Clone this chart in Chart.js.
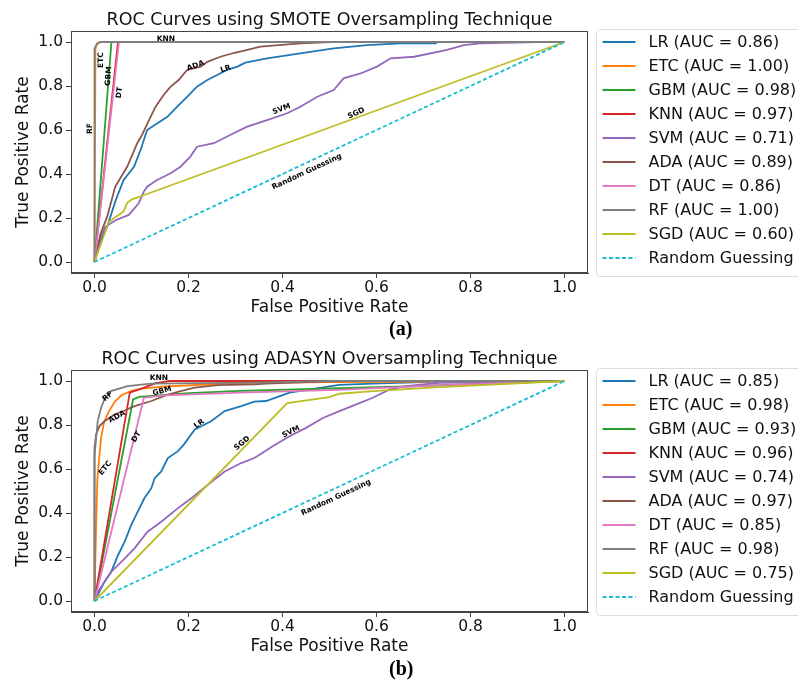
<!DOCTYPE html>
<html>
<head>
<meta charset="utf-8">
<script src="https://cdn.jsdelivr.net/npm/chart.js@4.4.0/dist/chart.umd.min.js"></script>
<style>
  body { margin: 0; background: #fff; width: 798px; height: 681px; position: relative; overflow: hidden; }
  .panel { position: absolute; left: 0; width: 798px; height: 340px; }
  .tag { position: absolute; font-family: "Liberation Serif", "Times New Roman", serif; font-weight: bold; font-size: 20px; line-height: 23px; }
</style>
</head>
<body>
<div class="panel" style="top:0"><canvas id="smote" width="798" height="340"></canvas></div>
<div class="panel" style="top:339px"><canvas id="adasyn" width="798" height="340"></canvas></div>
<div class="tag" style="left:389px;top:317px">(a)</div>
<div class="tag" style="left:389px;top:657px">(b)</div>
<script>
// Models and AUC values from the legends
const models = ["LR", "ETC", "GBM", "KNN", "SVM", "ADA", "DT", "RF", "SGD"];
const smoteAuc = [0.86, 1.00, 0.98, 0.97, 0.71, 0.89, 0.86, 1.00, 0.60];
const adasynAuc = [0.85, 0.98, 0.93, 0.96, 0.74, 0.97, 0.85, 0.98, 0.75];

const xTicks = [0, 0.2, 0.4, 0.6, 0.8, 1.0];
const yTicks = [0, 0.2, 0.4, 0.6, 0.8, 1.0];

// ROC points [fpr, tpr], SMOTE
const smoteLR = [[0,0],[0.013,0.1],[0.027,0.16],[0.045,0.28],[0.062,0.373],[0.084,0.433],[0.098,0.509],[0.112,0.6],[0.133,0.63],[0.155,0.66],[0.176,0.706],[0.197,0.751],[0.218,0.797],[0.24,0.827],[0.261,0.85],[0.282,0.873],[0.304,0.888],[0.321,0.906],[0.367,0.926],[0.438,0.948],[0.509,0.971],[0.58,0.986],[0.65,0.994],[0.726,0.994],[0.73,1],[1,1]];
const smoteETC = [[0,0],[0.002,0.97],[0.006,0.995],[0.015,1],[1,1]];
const smoteGBM = [[0,0],[0.036,1],[1,1]];
const smoteKNN = [[0,0],[0.05,1],[1,1]];
const smoteSVM = [[0,0],[0.009,0.07],[0.013,0.115],[0.023,0.16],[0.045,0.19],[0.073,0.214],[0.094,0.267],[0.105,0.32],[0.112,0.342],[0.133,0.373],[0.162,0.403],[0.183,0.433],[0.204,0.479],[0.218,0.524],[0.254,0.54],[0.296,0.585],[0.325,0.615],[0.367,0.645],[0.41,0.676],[0.438,0.706],[0.474,0.751],[0.509,0.782],[0.53,0.835],[0.566,0.857],[0.601,0.888],[0.63,0.926],[0.68,0.933],[0.75,0.964],[0.786,0.986],[0.82,0.994],[0.94,1],[1,1]];
const smoteADA = [[0,0],[0.013,0.13],[0.027,0.206],[0.044,0.342],[0.0695,0.433],[0.091,0.54],[0.101,0.577],[0.116,0.645],[0.13,0.706],[0.147,0.759],[0.162,0.797],[0.179,0.827],[0.197,0.873],[0.226,0.888],[0.24,0.91],[0.268,0.933],[0.296,0.95],[0.325,0.964],[0.353,0.979],[0.438,0.994],[0.5,1],[1,1]];
const smoteDT = [[0,0],[0.052,1],[1,1]];
const smoteRF = [[0,0],[0,0.97],[0.005,0.99],[0.012,1],[1,1]];
const smoteSGD = [[0,0],[0.01,0.06],[0.03,0.18],[0.045,0.205],[0.062,0.23],[0.07,0.27],[0.08,0.285],[0.1,0.3],[1,1]];

// ROC points, ADASYN
const adasynLR = [[0,0],[0.01,0.04],[0.021,0.087],[0.0355,0.132],[0.05,0.208],[0.064,0.269],[0.078,0.345],[0.092,0.406],[0.106,0.467],[0.121,0.513],[0.128,0.558],[0.142,0.589],[0.156,0.65],[0.177,0.68],[0.19,0.711],[0.213,0.779],[0.248,0.817],[0.277,0.863],[0.312,0.886],[0.34,0.906],[0.365,0.909],[0.415,0.947],[0.521,0.982],[0.592,0.988],[0.734,0.997],[1,1]];
const adasynETC = [[0,0],[0.003,0.3],[0.006,0.55],[0.01,0.65],[0.014,0.74],[0.02,0.81],[0.03,0.86],[0.043,0.905],[0.057,0.935],[0.078,0.955],[0.1,0.965],[0.15,0.975],[0.3,0.99],[0.5,0.995],[1,1]];
const adasynGBM = [[0,0],[0.082,0.916],[0.095,0.928],[0.2,0.945],[0.31,0.955],[0.66,0.975],[1,1]];
const adasynKNN = [[0,0],[0.075,0.947],[0.1,0.965],[0.13,0.99],[0.16,1],[1,1]];
const adasynSVM = [[0,0],[0.007,0.041],[0.0355,0.132],[0.064,0.193],[0.085,0.239],[0.113,0.315],[0.142,0.36],[0.177,0.421],[0.206,0.467],[0.241,0.528],[0.277,0.589],[0.312,0.627],[0.34,0.65],[0.351,0.665],[0.379,0.703],[0.415,0.749],[0.45,0.787],[0.486,0.832],[0.521,0.863],[0.557,0.894],[0.592,0.924],[0.628,0.962],[0.663,0.977],[0.734,0.992],[1,1]];
const adasynADA = [[0,0],[0,0.695],[0.0035,0.757],[0.0106,0.795],[0.0213,0.817],[0.0426,0.848],[0.0638,0.866],[0.0851,0.886],[0.121,0.909],[0.149,0.932],[0.177,0.951],[0.213,0.97],[0.262,0.981],[0.34,0.985],[0.365,0.988],[0.482,0.997],[0.55,1],[1,1]];
const adasynDT = [[0,0],[0.105,0.924],[0.15,0.935],[0.31,0.947],[0.52,0.96],[0.73,0.98],[1,1]];
const adasynRF = [[0,0],[0,0.66],[0.0035,0.74],[0.007,0.82],[0.014,0.878],[0.021,0.916],[0.035,0.954],[0.07,0.977],[0.12,0.988],[0.34,0.993],[0.5,1],[1,1]];
const adasynSGD = [[0,0],[0.41,0.9],[0.5,0.927],[0.521,0.942],[0.592,0.954],[0.734,0.972],[1,1]];

const randomLine = [[0,0],[1,1]];

// curve labels written on the plots: text, fpr, tpr, angle
const smoteNotes = [
  ["KNN", 0.152, 1.013, 0], ["ETC", 0.013, 0.918, -90], ["GBM", 0.03, 0.845, -85],
  ["DT", 0.053, 0.77, -84], ["RF", -0.01, 0.607, -90], ["ADA", 0.215, 0.892, -20],
  ["LR", 0.279, 0.877, -18], ["SVM", 0.398, 0.695, -20], ["SGD", 0.557, 0.676, -25],
  ["Random Guessing", 0.452, 0.41, -25]
];
const adasynNotes = [
  ["KNN", 0.137, 1.015, 0], ["RF", 0.028, 0.93, -40], ["GBM", 0.144, 0.954, -15],
  ["ADA", 0.048, 0.837, -28], ["DT", 0.089, 0.746, -57], ["ETC", 0.023, 0.604, -50],
  ["LR", 0.223, 0.805, -35], ["SGD", 0.314, 0.717, -40], ["SVM", 0.418, 0.769, -26],
  ["Random Guessing", 0.514, 0.47, -25]
];

const colors = ["#1f77b4", "#ff7f0e", "#2ca02c", "#d62728", "#9467bd", "#8c564b", "#e377c2", "#7f7f7f", "#bcbd22"];
const randomColor = "#17becf";
const FONT = "'DejaVu Sans', sans-serif";

function toXY(pts) {
  return pts.map(p => ({ x: p[0], y: p[1] }));
}

// titles, curve labels, frame and legend are drawn by hand
const decorPlugin = {
  id: "decor",
  afterDraw(chart) {
    const { ctx, chartArea, scales } = chart;
    const opts = chart.options.plugins.decor;
    ctx.save();

    // axes frame
    ctx.strokeStyle = "#444";
    ctx.lineWidth = 1;
    ctx.strokeRect(chartArea.left + 0.5, chartArea.top + 0.5, chartArea.width - 1, chartArea.height - 1);

    // title
    ctx.fillStyle = "#111";
    ctx.font = "17.5px " + FONT;
    ctx.textAlign = "center";
    ctx.textBaseline = "middle";
    ctx.fillText(opts.title, (chartArea.left + chartArea.right) / 2, 20);

    // labels on the curves
    ctx.font = "bold 7.5px " + FONT;
    ctx.fillStyle = "#000";
    opts.notes.forEach(n => {
      const px = scales.x.getPixelForValue(n[1]);
      const py = scales.y.getPixelForValue(n[2]);
      ctx.save();
      ctx.translate(px, py);
      ctx.rotate(n[3] * Math.PI / 180);
      ctx.fillText(n[0], 0, 0);
      ctx.restore();
    });

    // legend outside on the right
    const lx = chartArea.right + 8.5, ly = chartArea.top - 1.5, lh = 247, lw = 215;
    ctx.beginPath();
    ctx.roundRect(lx, ly, lw, lh, 4);
    ctx.fillStyle = "rgba(255,255,255,0.8)";
    ctx.fill();
    ctx.strokeStyle = "#dcdcdc";
    ctx.stroke();
    ctx.font = "16px " + FONT;
    ctx.textAlign = "left";
    chart.data.datasets.forEach((ds, i) => {
      const y = ly + 12.5 + 24 * i;
      ctx.beginPath();
      ctx.setLineDash(ds.borderDash || []);
      ctx.strokeStyle = ds.borderColor;
      ctx.lineWidth = 1.8;
      ctx.moveTo(lx + 6, y);
      ctx.lineTo(lx + 39, y);
      ctx.stroke();
      ctx.setLineDash([]);
      ctx.fillStyle = "#111";
      ctx.fillText(ds.label, lx + 52, y + 1);
    });
    ctx.restore();
  }
};

function makeChart(id, title, curves, aucs, notes) {
  const datasets = models.map((m, i) => ({
    label: `${m} (AUC = ${aucs[i].toFixed(2)})`,
    data: toXY(curves[i]),
    borderColor: colors[i],
    borderWidth: 1.8,
    pointRadius: 0,
    fill: false,
    order: 20 - i
  }));
  datasets.push({
    label: "Random Guessing",
    data: toXY(randomLine),
    borderColor: randomColor,
    borderWidth: 1.8,
    borderDash: [4, 2.5],
    pointRadius: 0,
    fill: false,
    order: 0
  });

  const tickFont = { family: FONT, size: 15.5 };
  const labelFont = { family: FONT, size: 17 };

  return new Chart(document.getElementById(id), {
    type: "line",
    data: { datasets },
    plugins: [decorPlugin],
    options: {
      responsive: false,
      animation: false,
      layout: { padding: { left: 0, right: 210, top: 31, bottom: 22 } },
      plugins: {
        legend: { display: false },
        tooltip: { enabled: false },
        decor: { title, notes }
      },
      scales: {
        x: {
          type: "linear",
          min: -0.05,
          max: 1.05,
          afterBuildTicks: s => { s.ticks = xTicks.map(v => ({ value: v })); },
          afterFit: s => { s.height = 45; },
          ticks: { font: tickFont, color: "#111", padding: 1, maxRotation: 0, callback: v => v.toFixed(1) },
          grid: { drawOnChartArea: false, drawTicks: true, tickLength: 5, tickColor: "#444" },
          border: { display: true, color: "#444" },
          title: { display: true, text: "False Positive Rate", font: labelFont, color: "#111", padding: 0 }
        },
        y: {
          type: "linear",
          min: -0.05,
          max: 1.05,
          afterBuildTicks: s => { s.ticks = yTicks.map(v => ({ value: v })); },
          afterFit: s => { s.width = 71; },
          ticks: { font: tickFont, color: "#111", padding: 3, callback: v => v.toFixed(1) },
          grid: { drawOnChartArea: false, drawTicks: true, tickLength: 5, tickColor: "#444" },
          border: { display: true, color: "#444" },
          title: { display: true, text: "True Positive Rate", font: labelFont, color: "#111", padding: { top: 13, bottom: 0 } }
        }
      }
    }
  });
}

makeChart("smote", "ROC Curves using SMOTE Oversampling Technique",
  [smoteLR, smoteETC, smoteGBM, smoteKNN, smoteSVM, smoteADA, smoteDT, smoteRF, smoteSGD],
  smoteAuc, smoteNotes);

makeChart("adasyn", "ROC Curves using ADASYN Oversampling Technique",
  [adasynLR, adasynETC, adasynGBM, adasynKNN, adasynSVM, adasynADA, adasynDT, adasynRF, adasynSGD],
  adasynAuc, adasynNotes);
</script>
</body>
</html>
